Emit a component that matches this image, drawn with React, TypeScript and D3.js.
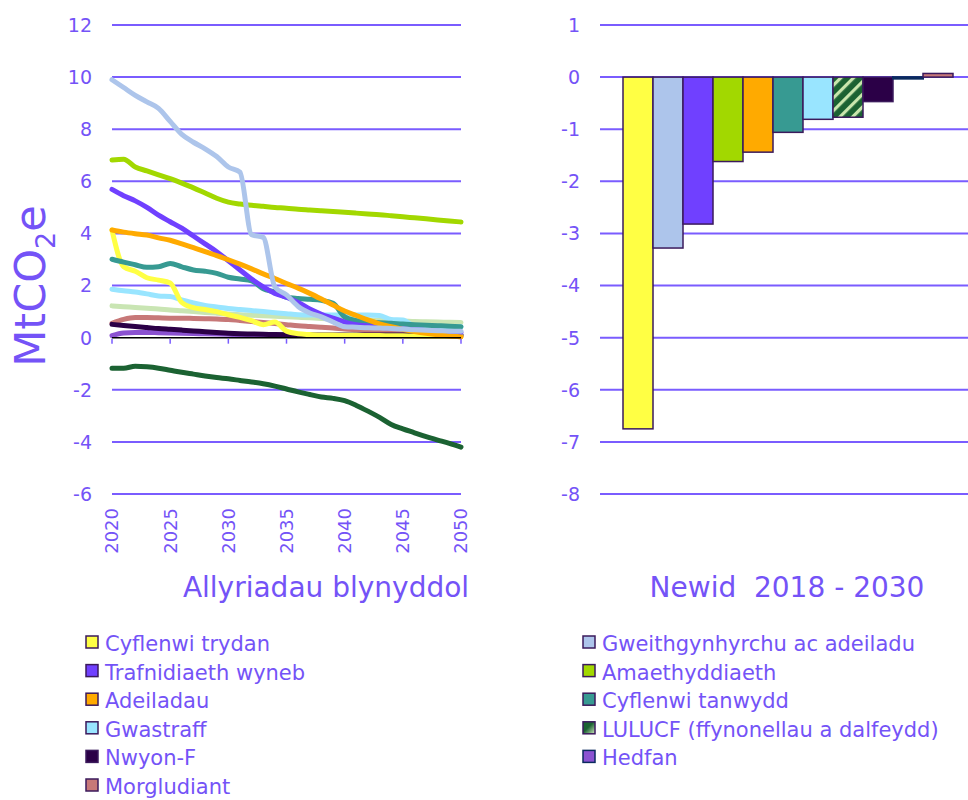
import React from "react";
import * as d3 from "d3";

const years = d3.range(2020, 2051);

const gweithgynhyrchu = [9.9, 9.6, 9.3, 9.05, 8.8, 8.3, 7.8, 7.5, 7.25, 6.95, 6.55, 6.35, 3.95, 3.85, 1.95, 1.64, 1.2, 0.95, 0.8, 0.6, 0.42, 0.4, 0.38, 0.37, 0.35, 0.33, 0.3, 0.28, 0.27, 0.25, 0.25];
const amaethyddiaeth = [6.82, 6.85, 6.55, 6.4, 6.25, 6.1, 5.93, 5.75, 5.55, 5.35, 5.2, 5.13, 5.08, 5.04, 5.0, 4.97, 4.93, 4.9, 4.87, 4.84, 4.81, 4.78, 4.75, 4.72, 4.68, 4.64, 4.6, 4.56, 4.52, 4.48, 4.44];
const trafnidiaeth = [5.69, 5.45, 5.25, 5.0, 4.7, 4.45, 4.2, 3.9, 3.6, 3.3, 2.95, 2.6, 2.25, 1.95, 1.7, 1.55, 1.35, 1.1, 0.9, 0.75, 0.6, 0.5, 0.45, 0.4, 0.37, 0.33, 0.3, 0.27, 0.25, 0.22, 0.2];
const adeiladau = [4.13, 4.05, 3.99, 3.94, 3.83, 3.74, 3.6, 3.46, 3.3, 3.15, 2.99, 2.82, 2.64, 2.45, 2.27, 2.08, 1.9, 1.7, 1.48, 1.25, 1.02, 0.85, 0.68, 0.53, 0.42, 0.32, 0.24, 0.17, 0.11, 0.06, 0.03];
const tanwydd = [3.01, 2.9, 2.8, 2.7, 2.72, 2.85, 2.72, 2.6, 2.55, 2.47, 2.32, 2.25, 2.18, 1.88, 1.75, 1.55, 1.5, 1.47, 1.43, 1.32, 0.8, 0.65, 0.6, 0.57, 0.55, 0.52, 0.5, 0.48, 0.46, 0.44, 0.42];
const trydan = [4.13, 2.72, 2.55, 2.3, 2.21, 2.1, 1.35, 1.15, 1.08, 1.0, 0.88, 0.78, 0.65, 0.5, 0.6, 0.25, 0.15, 0.12, 0.1, 0.1, 0.09, 0.09, 0.08, 0.08, 0.07, 0.07, 0.06, 0.06, 0.05, 0.05, 0.05];
const gwastraff = [1.86, 1.8, 1.75, 1.68, 1.6, 1.58, 1.45, 1.33, 1.24, 1.18, 1.12, 1.08, 1.04, 1.0, 0.96, 0.92, 0.88, 0.87, 0.87, 0.87, 0.87, 0.87, 0.87, 0.85, 0.7, 0.68, 0.45, 0.43, 0.42, 0.42, 0.42];
const eraill = [1.22, 1.19, 1.16, 1.13, 1.1, 1.06, 1.03, 1.0, 0.97, 0.94, 0.91, 0.88, 0.86, 0.84, 0.82, 0.8, 0.78, 0.76, 0.74, 0.72, 0.7, 0.69, 0.68, 0.66, 0.65, 0.64, 0.62, 0.61, 0.6, 0.59, 0.58];
const morgludiant = [0.55, 0.7, 0.77, 0.77, 0.76, 0.75, 0.75, 0.74, 0.73, 0.72, 0.7, 0.66, 0.62, 0.58, 0.54, 0.5, 0.46, 0.43, 0.4, 0.37, 0.33, 0.3, 0.27, 0.24, 0.2, 0.17, 0.14, 0.12, 0.1, 0.09, 0.08];
const nwyonF = [0.51, 0.47, 0.43, 0.39, 0.35, 0.32, 0.29, 0.26, 0.23, 0.2, 0.17, 0.15, 0.14, 0.13, 0.12, 0.11, 0.1, 0.1, 0.1, 0.1, 0.1, 0.1, 0.1, 0.1, 0.1, 0.1, 0.1, 0.1, 0.1, 0.1, 0.1];
const hedfan = [0.08, 0.18, 0.2, 0.2, 0.19, 0.18, 0.17, 0.16, 0.15, 0.14, 0.13, 0.12, 0.12, 0.11, 0.11, 0.1, 0.1, 0.1, 0.09, 0.09, 0.09, 0.08, 0.08, 0.08, 0.07, 0.07, 0.07, 0.06, 0.06, 0.06, 0.05];
const lulucf = [-1.17, -1.17, -1.1, -1.12, -1.17, -1.25, -1.33, -1.4, -1.47, -1.53, -1.58, -1.64, -1.7, -1.77, -1.86, -1.97, -2.08, -2.18, -2.28, -2.33, -2.42, -2.6, -2.82, -3.06, -3.33, -3.5, -3.65, -3.8, -3.93, -4.06, -4.2];

const barCategories = ["Cyflenwi trydan", "Gweithgynhyrchu ac adeiladu", "Trafnidiaeth wyneb", "Amaethyddiaeth", "Adeiladau", "Cyflenwi tanwydd", "Gwastraff", "LULUCF (ffynonellau a dalfeydd)", "Nwyon-F", "Hedfan", "Morgludiant"];
const barValues = [-6.75, -3.28, -2.82, -1.62, -1.44, -1.06, -0.81, -0.77, -0.47, -0.03, 0.07];

const leftTicks = [12, 10, 8, 6, 4, 2, 0, -2, -4, -6];
const rightTicks = [1, 0, -1, -2, -3, -4, -5, -6, -7, -8];
const xTicks = [2020, 2025, 2030, 2035, 2040, 2045, 2050];

const leftLegend = ["Cyflenwi trydan", "Trafnidiaeth wyneb", "Adeiladau", "Gwastraff", "Nwyon-F", "Morgludiant"];
const rightLegend = ["Gweithgynhyrchu ac adeiladu", "Amaethyddiaeth", "Cyflenwi tanwydd", "LULUCF (ffynonellau a dalfeydd)", "Hedfan"];

const colors: Record<string, string> = {
  "Cyflenwi trydan": "#FFFF44",
  "Gweithgynhyrchu ac adeiladu": "#ADC5EB",
  "Trafnidiaeth wyneb": "#7040FF",
  "Amaethyddiaeth": "#A2D800",
  "Adeiladau": "#FFAA00",
  "Cyflenwi tanwydd": "#379A92",
  "Gwastraff": "#99E5FF",
  "LULUCF (ffynonellau a dalfeydd)": "#1B6232",
  "Nwyon-F": "#2B0047",
  "Hedfan": "#8B52D1",
  "Morgludiant": "#C77878",
  "Eraill": "#C9E5B3",
};

const lineSeries: [string, number[]][] = [
  ["LULUCF (ffynonellau a dalfeydd)", lulucf],
  ["Hedfan", hedfan],
  ["Eraill", eraill],
  ["Morgludiant", morgludiant],
  ["Nwyon-F", nwyonF],
  ["Gwastraff", gwastraff],
  ["Cyflenwi trydan", trydan],
  ["Cyflenwi tanwydd", tanwydd],
  ["Trafnidiaeth wyneb", trafnidiaeth],
  ["Adeiladau", adeiladau],
  ["Amaethyddiaeth", amaethyddiaeth],
  ["Gweithgynhyrchu ac adeiladu", gweithgynhyrchu],
];

const TXT = "#7453F7";
const GRID = "#7A5CFF";
const FONT = "'DejaVu Sans', sans-serif";
const EDGE = "#3B1A5C";

export default function App() {
  const x = d3.scaleLinear().domain([2020, 2050]).range([112, 461]);
  const yL = d3.scaleLinear().domain([-6, 12]).range([494, 25]);
  const yR = d3.scaleLinear().domain([-8, 1]).range([494, 25]);
  const band = d3.scaleBand().domain(barCategories).range([623, 953]).padding(0);

  const line = d3
    .line<number>()
    .x((_, i) => x(years[i]))
    .y((v) => yL(v))
    .curve(d3.curveMonotoneX);

  const swatchFill = (name: string) =>
    name.startsWith("LULUCF") ? "url(#lulucfGrad)" : colors[name];

  return (
    <svg width={968} height={800} style={{ position: "absolute", left: 0, top: 0, background: "#fff" }} fontFamily={FONT}>
      <defs>
        <pattern id="stripes" width="9" height="9" patternUnits="userSpaceOnUse" patternTransform="rotate(45)">
          <rect width="9" height="9" fill={colors["LULUCF (ffynonellau a dalfeydd)"]} />
          <rect x="0" y="0" width="3.2" height="9" fill="#C9E6AD" />
        </pattern>
        <linearGradient id="lulucfGrad" x1="0" y1="0" x2="1" y2="1">
          <stop offset="0.45" stopColor="#1B6232" />
          <stop offset="1" stopColor="#D8EEC4" />
        </linearGradient>
      </defs>

      {/* Left chart grid */}
      {leftTicks.map((t) => (
        <g key={"lg" + t}>
          {t !== 0 && <line x1={112} x2={461} y1={yL(t)} y2={yL(t)} stroke={GRID} strokeWidth={2} />}
          <text x={92} y={yL(t)} dy="0.36em" textAnchor="end" fontSize={19} fill={TXT}>
            {t}
          </text>
        </g>
      ))}

      {/* Lines */}
      {lineSeries.map(([name, vals]) => (
        <path key={name} d={line(vals) || ""} fill="none" stroke={colors[name]} strokeWidth={5} strokeLinejoin="round" strokeLinecap="round" />
      ))}

      {/* X axis */}
      <line x1={112} x2={461} y1={yL(0)} y2={yL(0)} stroke="#000" strokeWidth={1.5} />
      {xTicks.map((t) => (
        <g key={"xt" + t}>
          <line x1={x(t)} x2={x(t)} y1={yL(0) + 1} y2={yL(0) + 6} stroke={GRID} strokeWidth={1.5} />
          <text transform={`translate(${x(t)},508) rotate(-90)`} dy="0.36em" textAnchor="end" fontSize={18} fill={TXT}>
            {t}
          </text>
        </g>
      ))}

      {/* Y title */}
      <text transform="translate(45,286) rotate(-90)" textAnchor="middle" fontSize={43} fill={TXT}>
        MtCO<tspan fontSize={27} dy="10">2</tspan>
        <tspan dy="-10">e</tspan>
      </text>

      <text x={326} y={597} textAnchor="middle" fontSize={28} fill={TXT}>
        Allyriadau blynyddol
      </text>

      {/* Right chart */}
      {rightTicks.map((t) => (
        <g key={"rg" + t}>
          <line x1={600} x2={968} y1={yR(t)} y2={yR(t)} stroke={GRID} strokeWidth={2} />
          <text x={580} y={yR(t)} dy="0.36em" textAnchor="end" fontSize={19} fill={TXT}>
            {t}
          </text>
        </g>
      ))}
      {barCategories.map((c, i) => {
        const v = barValues[i];
        const y0 = yR(Math.max(0, v));
        const h = Math.abs(yR(v) - yR(0));
        const isHed = c === "Hedfan";
        return (
          <rect
            key={c}
            x={band(c)}
            y={y0}
            width={band.bandwidth()}
            height={h}
            fill={c.startsWith("LULUCF") ? "url(#stripes)" : colors[c]}
            stroke={isHed ? "#0A2A5E" : EDGE}
            strokeWidth={isHed ? 2 : 1.5}
          />
        );
      })}

      <text x={787} y={597} textAnchor="middle" fontSize={28} fill={TXT} style={{ whiteSpace: "pre" }}>
        {"Newid  2018 - 2030"}
      </text>

      {/* Legends */}
      {leftLegend.map((name, i) => (
        <g key={"ll" + name} transform={`translate(86,${651 + i * 28.6})`}>
          <rect x={0} y={-15} width={12} height={12} fill={swatchFill(name)} stroke={EDGE} strokeWidth={1.5} />
          <text x={19} y={0} fontSize={21} fill={TXT}>
            {name}
          </text>
        </g>
      ))}
      {rightLegend.map((name, i) => (
        <g key={"rl" + name} transform={`translate(583,${651 + i * 28.6})`}>
          <rect x={0} y={-15} width={12} height={12} fill={swatchFill(name)} stroke={name === "Hedfan" ? "#0A2A5E" : EDGE} strokeWidth={1.5} />
          <text x={19} y={0} fontSize={21} fill={TXT}>
            {name}
          </text>
        </g>
      ))}
    </svg>
  );
}
